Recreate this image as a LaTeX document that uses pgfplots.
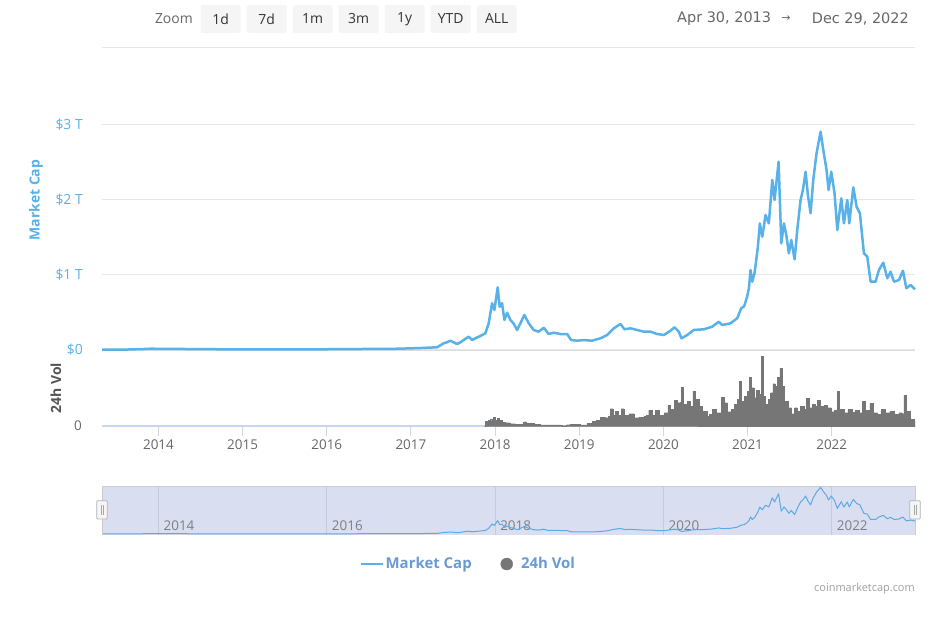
\documentclass[border=0pt]{standalone}
\usepackage{fontspec}
\setmainfont{Open Sans}
\newfontfamily\djv{DejaVu Sans}
\usepackage{pgfplots}
\usepackage{pgfplotstable}
\pgfplotsset{compat=1.18}
\pgfplotsset{
  linelegend/.style={legend image code/.code={\draw[##1] (0bp,0bp) -- (22bp,0bp);}},
  dotlegend/.style={legend image code/.code={\path[draw=none, fill=none] (0bp,-6bp) rectangle (18.3bp,6bp); \draw[##1] plot coordinates {(6bp,0bp)};}},
}
\definecolor{mcblue}{HTML}{58B1E8}
\definecolor{navblue}{HTML}{5FA8E2}
\definecolor{legendblue}{HTML}{6A9AD4}
\definecolor{volgray}{HTML}{767676}
\definecolor{gridgray}{HTML}{E6E6E6}
\definecolor{zerogray}{HTML}{DDDDDD}
\definecolor{axisline}{HTML}{CCD6EB}
\definecolor{labelgray}{HTML}{666666}
\definecolor{textdark}{HTML}{333333}
\definecolor{navfill}{HTML}{D9DFF0}
\definecolor{navgrid}{HTML}{C5CBDD}
\definecolor{navborder}{HTML}{CCCCCC}
\definecolor{btnfill}{HTML}{F5F5F5}
\definecolor{titlegray}{HTML}{555555}

\pgfplotstableread{
year cap
2013.329 0.0015
2013.6 0.0012
2013.85 0.010
2013.92 0.014
2014.0 0.011
2014.15 0.012
2014.4 0.008
2014.7 0.006
2015.0 0.004
2015.5 0.004
2016.0 0.006
2016.4 0.009
2016.5 0.011
2016.8 0.012
2017.0 0.018
2017.15 0.024
2017.31 0.032
2017.389 0.085
2017.43 0.10
2017.468 0.12
2017.548 0.076
2017.59 0.10
2017.627 0.13
2017.686 0.173
2017.727 0.13
2017.78 0.16
2017.825 0.183
2017.885 0.219
2017.924 0.352
2017.964 0.619
2017.992 0.529
2018.031 0.832
2018.055 0.573
2018.083 0.619
2018.111 0.396
2018.143 0.493
2018.182 0.396
2018.22 0.35
2018.262 0.263
2018.30 0.35
2018.348 0.463
2018.400 0.352
2018.459 0.263
2018.518 0.24
2018.578 0.293
2018.637 0.209
2018.697 0.227
2018.776 0.209
2018.856 0.209
2018.904 0.129
2018.975 0.12
2019.054 0.129
2019.153 0.12
2019.252 0.152
2019.332 0.196
2019.410 0.285
2019.490 0.343
2019.537 0.272
2019.609 0.285
2019.688 0.263
2019.767 0.24
2019.847 0.24
2019.926 0.209
2020.005 0.196
2020.084 0.253
2020.132 0.299
2020.183 0.24
2020.215 0.152
2020.283 0.196
2020.361 0.263
2020.480 0.272
2020.580 0.307
2020.659 0.373
2020.699 0.329
2020.798 0.352
2020.877 0.419
2020.925 0.552
2020.960 0.58
2020.996 0.71
2021.016 0.82
2021.036 1.063
2021.056 0.907
2021.083 1.019
2021.123 1.373
2021.146 1.685
2021.175 1.507
2021.214 1.796
2021.253 1.685
2021.294 2.263
2021.321 1.996
2021.369 2.507
2021.401 1.419
2021.432 1.685
2021.464 1.507
2021.491 1.285
2021.520 1.463
2021.559 1.205
2021.591 1.596
2021.630 1.996
2021.658 2.129
2021.690 2.373
2021.717 2.063
2021.749 1.819
2021.781 2.263
2021.820 2.619
2021.868 2.907
2021.900 2.663
2021.939 2.396
2021.963 2.129
2021.995 2.373
2022.034 2.085
2022.067 1.596
2022.114 2.019
2022.145 1.685
2022.185 1.996
2022.209 1.685
2022.257 2.165
2022.296 1.907
2022.335 1.819
2022.383 1.285
2022.423 1.24
2022.462 0.907
2022.522 0.907
2022.561 1.063
2022.613 1.16
2022.661 0.952
2022.700 1.04
2022.740 0.907
2022.799 0.929
2022.847 1.053
2022.887 0.819
2022.938 0.863
2022.990 0.805
}\mcap

\pgfplotstableread{
year vol
2017.874 0
2017.886 5
2017.92 6
2017.945 6.7
2017.96 5
2017.98 9
2018.00 6
2018.027 7.7
2018.045 5
2018.06 5.7
2018.09 4
2018.12 3.3
2018.18 2.3
2018.24 1.5
2018.30 2
2018.33 3.5
2018.348 4.3
2018.37 2.8
2018.40 3
2018.46 1.5
2018.54 1.2
2018.78 1
2018.80 0.3
2018.83 0.3
2018.85 1.3
2018.89 1.5
2019.01 1.2
2019.10 2.5
2019.153 5
2019.20 6
2019.252 9
2019.311 8.3
2019.35 10
2019.371 17.3
2019.403 11
2019.43 15
2019.458 11
2019.498 17.3
2019.529 11
2019.589 12.3
2019.648 8.3
2019.708 9
2019.767 10
2019.80 11
2019.826 16
2019.867 11
2019.906 15.7
2019.945 11
2020.005 13.3
2020.052 21
2020.084 16.7
2020.132 25.7
2020.164 23.3
2020.195 24
2020.211 39
2020.235 21.7
2020.283 25
2020.314 20
2020.350 35
2020.382 26.7
2020.421 20
2020.461 15
2020.521 10
2020.55 12
2020.580 16.7
2020.631 13.3
2020.691 29
2020.718 23.3
2020.759 14.3
2020.806 16.7
2020.845 21.7
2020.877 26.7
2020.905 45
2020.925 25
2020.964 30
2020.996 35
2021.020 49
2021.043 38.3
2021.075 28.3
2021.107 35.7
2021.134 31.7
2021.163 70
2021.182 30
2021.214 21.7
2021.246 26.7
2021.274 33.3
2021.301 42.3
2021.329 40
2021.353 49
2021.384 57.7
2021.408 40
2021.440 25
2021.479 18.3
2021.520 12.3
2021.559 18.3
2021.591 15
2021.630 20
2021.669 16.7
2021.698 27.7
2021.729 18.3
2021.769 21.7
2021.809 20
2021.833 25.7
2021.868 20
2021.907 20.7
2021.948 18.3
2021.995 14.3
2022.034 15.7
2022.067 35
2022.094 16.7
2022.145 13.3
2022.193 16.7
2022.245 14
2022.284 15.7
2022.323 13.3
2022.367 25
2022.403 15.7
2022.454 23
2022.495 13.3
2022.542 11.7
2022.590 16.7
2022.641 13.3
2022.692 15
2022.740 11.7
2022.799 13.3
2022.840 12.3
2022.859 31
2022.887 15
2022.938 6.7
2022.978 5
2022.990 3.3
}\volume

\begin{document}
\begin{tikzpicture}
\path (0bp,0bp) rectangle (941bp,-618bp);

% ---- top bar: zoom buttons and date range
\node[anchor=east, text=labelgray, font=\fontsize{14}{16}\selectfont, inner sep=0pt] at (193bp,-19bp) {Zoom};
\foreach \lbl [count=\i from 0] in {1d,7d,1m,3m,1y,YTD,ALL} {
  \fill[btnfill, rounded corners=2bp] ({200.7bp+46bp*\i},-5bp) rectangle ++(40bp,-28bp);
  \node[text=textdark, font=\fontsize{14}{16}\selectfont, inner sep=0pt] at ({220.7bp+46bp*\i},-19bp) {\lbl};
}
\node[anchor=west, text=labelgray, font=\djv\fontsize{14.5}{16}\selectfont, inner sep=0pt] at (677bp,-19bp) {Apr 30, 2013};
\node[text=labelgray, font=\djv\fontsize{11}{16}\selectfont, inner sep=0pt] at (786bp,-19bp) {→};
\node[anchor=east, text=labelgray, font=\djv\fontsize{14.5}{16}\selectfont, inner sep=0pt] at (909bp,-19bp) {Dec 29, 2022};
\draw[gridgray, line width=1bp] (102bp,-47bp) -- (915bp,-47bp);

% ---- axis titles
\node[rotate=90, text=mcblue, font=\bfseries\fontsize{14}{16}\selectfont, inner sep=0pt] at (36bp,-200bp) {Market Cap};
\node[rotate=90, text=titlegray, font=\bfseries\fontsize{14}{16}\selectfont, inner sep=0pt] at (56bp,-388bp) {24h Vol};

% ---- main market-cap panel
\draw[zerogray, line width=1.6bp] (102bp,-349.7bp) -- (915bp,-349.7bp);
\begin{axis}[
  at={(102bp,-349.7bp)}, anchor=south west,
  scale only axis, width=813bp, height=300bp,
  xmin=2013.329, xmax=2022.99,
  ymin=0, ymax=4,
  ytick={0,1,2,3},
  yticklabels={\$0,\$1 T,\$2 T,\$3 T},
  xtick=\empty,
  ymajorgrids, grid style={gridgray, line width=1bp},
  axis line style={draw=none},
  tick style={draw=none},
  yticklabel style={text=mcblue, font=\fontsize{14}{16}\selectfont, anchor=east, inner sep=0pt, xshift=-19bp},
  clip=false,
]
\addplot[mcblue, line width=2.5bp, line join=round] table[x=year, y=cap] {\mcap};
\end{axis}

% ---- volume panel
\begin{axis}[
  at={(102bp,-426bp)}, anchor=south west,
  scale only axis, width=813bp, height=74bp,
  xmin=2013.329, xmax=2022.99,
  ymin=0, ymax=74,
  axis lines*=left, separate axis lines,
  x axis line style={axisline, line width=1.2bp},
  y axis line style={draw=none},
  xtick={2014,2015,2016,2017,2018,2019,2020,2021,2022},
  xticklabels={2014,2015,2016,2017,2018,2019,2020,2021,2022},
  xtick align=outside, major tick length=10bp,
  x tick style={axisline, line width=1bp},
  y tick style={draw=none},
  ytick={0}, yticklabels={0},
  yticklabel style={text=labelgray, font=\fontsize{13.5}{16}\selectfont, anchor=east, inner sep=0pt, xshift=-20bp},
  xticklabel style={text=labelgray, font=\fontsize{13.5}{16}\selectfont, inner sep=0pt, yshift=-4bp},
  legend style={at={(axis description cs:0.313,-1.865)}, anchor=west, draw=none, fill=none,
    font=\bfseries\fontsize{15}{17}\selectfont, text=legendblue, legend columns=2,
    /tikz/every even column/.append style={column sep=27bp}},
  legend cell align=left,
]
\addplot[const plot, fill=volgray, draw=volgray, line width=0.4bp, forget plot] table[x=year, y=vol] {\volume} \closedcycle;
\addlegendimage{mcblue, line width=2bp, linelegend}
\addlegendimage{only marks, mark=*, mark size=6bp, volgray, mark options={draw=volgray, fill=volgray}, dotlegend}
\legend{Market Cap, 24h Vol}
\end{axis}

% ---- navigator
\begin{axis}[
  at={(102bp,-535bp)}, anchor=south west,
  scale only axis, width=813bp, height=49bp,
  xmin=2013.329, xmax=2022.99,
  ymin=-0.07, ymax=3.0,
  axis background/.style={fill=navfill},
  axis line style={draw=none},
  tick style={draw=none},
  ytick=\empty,
  xtick={2014,2016,2018,2020,2022},
  xticklabels={2014,2016,2018,2020,2022},
  xmajorgrids, grid style={navgrid, line width=1bp},
  xticklabel style={text=labelgray!80!navfill, font=\fontsize{13.5}{16}\selectfont, anchor=base west, inner sep=0pt, xshift=5bp, yshift=5bp},
]
\addplot[navblue, line width=1bp, line join=round] table[x=year, y=cap] {\mcap};
\end{axis}
\draw[navborder, line width=1bp] (102bp,-535bp) -- (102bp,-486bp) -- (915bp,-486bp) -- (915bp,-535bp);
\foreach \hx in {96.7,909.7} {
  \filldraw[fill=gray!8, draw=gray!60, rounded corners=1bp, line width=0.8bp] (\hx bp,-500.7bp) rectangle ++(10.6bp,-18.3bp);
  \draw[gray!70, line width=0.6bp] ({\hx bp+4.3bp},-505bp) -- ++(0,-9.5bp);
  \draw[gray!70, line width=0.6bp] ({\hx bp+6.3bp},-505bp) -- ++(0,-9.5bp);
}

% ---- credit
\node[anchor=east, text=gray!75, font=\fontsize{11}{13}\selectfont, inner sep=0pt] at (915bp,-589bp) {coinmarketcap.com};
\end{tikzpicture}
\end{document}
